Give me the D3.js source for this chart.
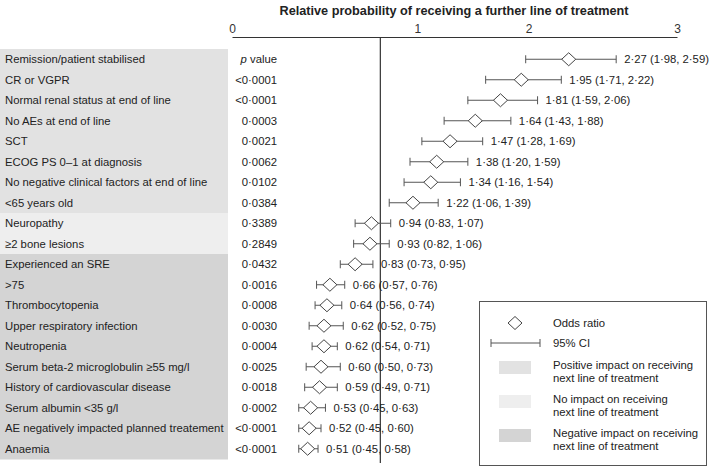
<!DOCTYPE html>
<html>
<head>
<meta charset="utf-8">
<script src="https://cdn.jsdelivr.net/npm/d3@7"></script>
<style>
	body { margin: 0; background: #fff; }
	svg { font-family: "Liberation Sans", Arial, sans-serif; }
</style>
</head>
<body>
<script>
	var labels = [
		"Remission/patient stabilised", "CR or VGPR", "Normal renal status at end of line",
		"No AEs at end of line", "SCT", "ECOG PS 0\u20131 at diagnosis",
		"No negative clinical factors at end of line", "<65 years old", "Neuropathy",
		"\u22652 bone lesions", "Experienced an SRE", ">75", "Thrombocytopenia",
		"Upper respiratory infection", "Neutropenia", "Serum beta-2 microglobulin \u226555 mg/l",
		"History of cardiovascular disease", "Serum albumin <35 g/l",
		"AE negatively impacted planned treatement", "Anaemia"
	];
	var impact = ["pos", "pos", "pos", "pos", "pos", "pos", "pos", "pos", "none", "none",
		"neg", "neg", "neg", "neg", "neg", "neg", "neg", "neg", "neg", "neg"];
	var pValues = ["header", "<0\u00b70001", "<0\u00b70001", "0\u00b70003", "0\u00b70021", "0\u00b70062",
		"0\u00b70102", "0\u00b70384", "0\u00b73389", "0\u00b72849", "0\u00b70432", "0\u00b70016",
		"0\u00b70008", "0\u00b70030", "0\u00b70004", "0\u00b70025", "0\u00b70018", "0\u00b70002",
		"<0\u00b70001", "<0\u00b70001"];
	var oddsRatio = [2.27, 1.95, 1.81, 1.64, 1.47, 1.38, 1.34, 1.22, 0.94, 0.93,
		0.83, 0.66, 0.64, 0.62, 0.62, 0.60, 0.59, 0.53, 0.52, 0.51];
	var ciLow = [1.98, 1.71, 1.59, 1.43, 1.28, 1.20, 1.16, 1.06, 0.83, 0.82,
		0.73, 0.57, 0.56, 0.52, 0.54, 0.50, 0.49, 0.45, 0.45, 0.45];
	var ciHigh = [2.59, 2.22, 2.06, 1.88, 1.69, 1.59, 1.54, 1.39, 1.07, 1.06,
		0.95, 0.76, 0.74, 0.75, 0.71, 0.73, 0.71, 0.63, 0.60, 0.58];
	var axisTicks = [0, 1, 2, 3];
	var legendItems = [
		{ kind: "pos", text: ["Positive impact on receiving", "next line of treatment"] },
		{ kind: "none", text: ["No impact on receiving", "next line of treatment"] },
		{ kind: "neg", text: ["Negative impact on receiving", "next line of treatment"] }
	];

	var fills = { pos: "#e2e2e2", none: "#eeeeee", neg: "#d4d4d4" };
	var ink = "#333";
	var fs = 11.3;

	var svg = d3.select("body").append("svg")
		.attr("width", 709)
		.attr("height", 467);

	var x = d3.scaleLinear().domain([0, 3]).range([232, 677]);
	var y = d3.scaleBand().domain(d3.range(labels.length)).range([49, 459]);
	var cy = function(i) { return y(i) + y.bandwidth() / 2; };

	var fmt = function(v) { return d3.format(".2f")(v).replace(".", "\u00b7"); };

	// title
	svg.append("text")
		.attr("x", 454)
		.attr("y", 15)
		.attr("text-anchor", "middle")
		.attr("font-weight", "bold")
		.attr("font-size", 12.7)
		.attr("fill", "#222")
		.text("Relative probability of receiving a further line of treatment");

	// top axis
	var axis = svg.append("g")
		.attr("transform", "translate(0,37)")
		.call(d3.axisTop(x).tickValues(axisTicks).tickFormat(d3.format("d")).tickSize(0).tickPadding(4));
	axis.select(".domain").attr("stroke", ink);
	axis.selectAll("text")
		.attr("font-size", 12)
		.attr("fill", ink)
		.attr("font-family", "Liberation Sans, Arial, sans-serif")
		.filter(function(d) { return d === 1; })
		.attr("dx", x(1.25) - x(1));

	// row backgrounds
	svg.selectAll("rect.band")
		.data(labels)
		.enter()
		.append("rect")
		.attr("class", "band")
		.attr("x", 0)
		.attr("y", function(d, i) { return y(i); })
		.attr("width", 228)
		.attr("height", y.bandwidth() + 0.5)
		.attr("fill", function(d, i) { return fills[impact[i]]; });

	svg.selectAll("text.label")
		.data(labels)
		.enter()
		.append("text")
		.attr("class", "label")
		.attr("x", 5)
		.attr("y", function(d, i) { return cy(i); })
		.attr("dy", "0.35em")
		.attr("font-size", fs)
		.attr("fill", "#222")
		.text(function(d) { return d; });

	// p values
	var pText = svg.selectAll("text.pval")
		.data(pValues)
		.enter()
		.append("text")
		.attr("class", "pval")
		.attr("x", 277)
		.attr("y", function(d, i) { return cy(i); })
		.attr("dy", "0.35em")
		.attr("text-anchor", "end")
		.attr("font-size", fs)
		.attr("fill", "#222");
	pText.filter(function(d) { return d !== "header"; })
		.text(function(d) { return d; });
	var head = pText.filter(function(d) { return d === "header"; });
	head.append("tspan").attr("font-style", "italic").text("p");
	head.append("tspan").text(" value");

	// reference line at 1
	svg.append("line")
		.attr("x1", x(1)).attr("x2", x(1))
		.attr("y1", 37).attr("y2", 463)
		.attr("stroke", ink)
		.attr("stroke-width", 1.2);

	// confidence intervals
	var rows = svg.selectAll("g.row")
		.data(oddsRatio)
		.enter()
		.append("g")
		.attr("class", "row")
		.attr("transform", function(d, i) { return "translate(0," + cy(i) + ")"; });

	rows.append("line")
		.attr("x1", function(d, i) { return x(ciLow[i]); })
		.attr("x2", function(d, i) { return x(ciHigh[i]); })
		.attr("stroke", "#555");
	rows.append("line")
		.attr("x1", function(d, i) { return x(ciLow[i]); })
		.attr("x2", function(d, i) { return x(ciLow[i]); })
		.attr("y1", -4).attr("y2", 4)
		.attr("stroke", "#555");
	rows.append("line")
		.attr("x1", function(d, i) { return x(ciHigh[i]); })
		.attr("x2", function(d, i) { return x(ciHigh[i]); })
		.attr("y1", -4).attr("y2", 4)
		.attr("stroke", "#555");

	var diamond = "M0,-6.5L7,0L0,6.5L-7,0Z";
	rows.append("path")
		.attr("d", diamond)
		.attr("transform", function(d) { return "translate(" + x(d) + ",0)"; })
		.attr("fill", "#fff")
		.attr("stroke", "#444");

	rows.append("text")
		.attr("x", function(d, i) { return x(ciHigh[i]) + 8; })
		.attr("dy", "0.35em")
		.attr("font-size", fs)
		.attr("fill", "#222")
		.text(function(d, i) { return fmt(d) + " (" + fmt(ciLow[i]) + ", " + fmt(ciHigh[i]) + ")"; });

	// legend
	var legend = svg.append("g").attr("transform", "translate(479,301)");
	legend.append("rect")
		.attr("x", 0.5).attr("y", 0.5)
		.attr("width", 227).attr("height", 164)
		.attr("fill", "#fff")
		.attr("stroke", "#555");

	legend.append("path")
		.attr("d", diamond)
		.attr("transform", "translate(36,22)")
		.attr("fill", "#fff")
		.attr("stroke", "#444");
	legend.append("text")
		.attr("x", 74).attr("y", 22).attr("dy", "0.35em")
		.attr("font-size", fs).attr("fill", "#222")
		.text("Odds ratio");

	legend.append("line")
		.attr("x1", 12).attr("x2", 61).attr("y1", 42).attr("y2", 42)
		.attr("stroke", "#555");
	legend.append("line")
		.attr("x1", 12).attr("x2", 12).attr("y1", 38).attr("y2", 46)
		.attr("stroke", "#555");
	legend.append("line")
		.attr("x1", 61).attr("x2", 61).attr("y1", 38).attr("y2", 46)
		.attr("stroke", "#555");
	legend.append("text")
		.attr("x", 74).attr("y", 42).attr("dy", "0.35em")
		.attr("font-size", fs).attr("fill", "#222")
		.text("95% CI");

	var items = legend.selectAll("g.item")
		.data(legendItems)
		.enter()
		.append("g")
		.attr("class", "item")
		.attr("transform", function(d, i) { return "translate(0," + (66 + i * 34) + ")"; });
	items.append("rect")
		.attr("x", 20).attr("y", -6)
		.attr("width", 32).attr("height", 13)
		.attr("fill", function(d) { return fills[d.kind]; });
	items.append("text")
		.attr("x", 74)
		.attr("font-size", fs)
		.attr("fill", "#222")
		.selectAll("tspan")
		.data(function(d) { return d.text; })
		.enter()
		.append("tspan")
		.attr("x", 74)
		.attr("y", function(d, i) { return -2 + i * 13; })
		.attr("dy", "0.35em")
		.text(function(d) { return d; });
</script>
</body>
</html>
